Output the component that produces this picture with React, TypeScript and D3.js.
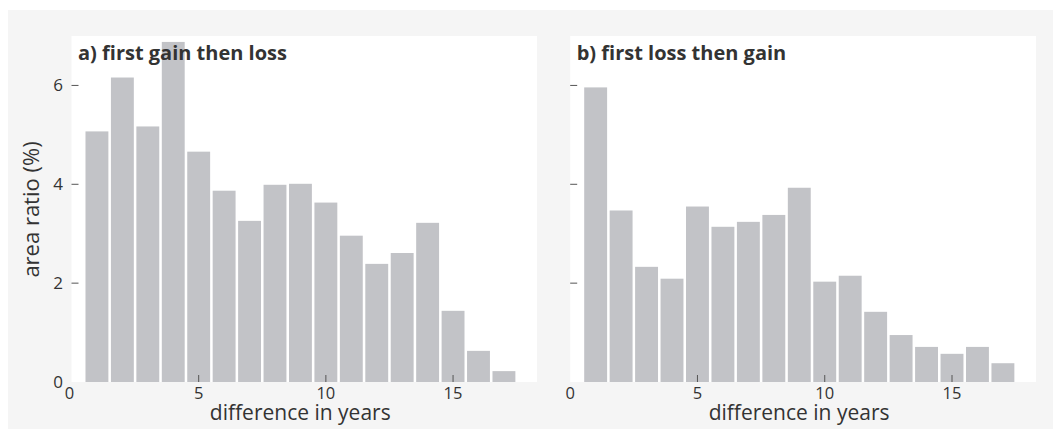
import React from "react";
import * as d3 from "d3";

const years = [1, 2, 3, 4, 5, 6, 7, 8, 9, 10, 11, 12, 13, 14, 15, 16, 17];
const gainThenLoss = [5.07, 6.16, 5.17, 6.88, 4.66, 3.87, 3.26, 3.99, 4.01, 3.63, 2.96, 2.39, 2.61, 3.22, 1.44, 0.63, 0.22];
const lossThenGain = [5.96, 3.47, 2.33, 2.09, 3.55, 3.14, 3.24, 3.38, 3.93, 2.03, 2.15, 1.42, 0.95, 0.71, 0.57, 0.71, 0.38];
const panelTitles = ["a) first gain then loss", "b) first loss then gain"];
const xTicks = [0, 5, 10, 15];
const yTicks = [0, 2, 4, 6];
const xLabel = "difference in years";
const yLabel = "area ratio (%)";

const FONT = "'Open Sans', 'Noto Sans', sans-serif";
const BAR = "#c2c3c7";
const TEXT = "#333333";
const TICK = "#555555";

const yScale = d3.scaleLinear().domain([0, 7]).range([382, 36]);

function Panel({ x0, x1, values, title, showYLabels }: { x0: number; x1: number; values: number[]; title: string; showYLabels: boolean }) {
  const xScale = d3.scaleLinear().domain([0, 18.3]).range([x0, x1]);
  const bw = xScale(0.9) - xScale(0);
  const [yBottom, yTop] = yScale.range();
  return (
    <g>
      <rect x={x0} y={yTop} width={x1 - x0} height={yBottom - yTop} fill="#ffffff" />
      {values.map((v, i) => (
        <rect key={i} x={xScale(years[i]) - bw / 2} y={yScale(v)} width={bw} height={yScale(0) - yScale(v)} fill={BAR} />
      ))}
      {yTicks.map((t) => (
        <g key={"y" + t}>
          {t !== 0 && <line x1={x0} x2={x0 + 7} y1={yScale(t)} y2={yScale(t)} stroke={TICK} strokeWidth={1} />}
          {showYLabels && (
            <text x={63} y={yScale(t)} dy="0.35em" textAnchor="end" fontSize={17} fill={TEXT} fontFamily={FONT}>
              {t}
            </text>
          )}
        </g>
      ))}
      {xTicks.map((t) => (
        <g key={"x" + t}>
          {t !== 0 && <line x1={xScale(t)} x2={xScale(t)} y1={yBottom} y2={yBottom - 7} stroke={TICK} strokeWidth={1} />}
          <text x={xScale(t) - (t === 0 && showYLabels ? 2 : 0)} y={398.5} textAnchor="middle" fontSize={16.5} fill={TEXT} fontFamily={FONT}>
            {t}
          </text>
        </g>
      ))}
      <text x={x0 + 6.5} y={60} fontSize={20} fontWeight="bold" fill={TEXT} fontFamily={FONT}>
        {title}
      </text>
      <text x={(x0 + x1) / 2 - 4} y={419.5} textAnchor="middle" fontSize={21} fill={TEXT} fontFamily={FONT}>
        {xLabel}
      </text>
    </g>
  );
}

export default function App() {
  return (
    <svg width={1053} height={429} style={{ position: "absolute", left: 0, top: 0 }}>
      <rect x={8} y={10} width={1045} height={419} fill="#f5f5f5" />
      <Panel x0={71.5} x1={537} values={gainThenLoss} title={panelTitles[0]} showYLabels={true} />
      <Panel x0={570.2} x1={1036} values={lossThenGain} title={panelTitles[1]} showYLabels={false} />
      <text transform="translate(38.5,209.5) rotate(-90)" textAnchor="middle" fontSize={22} fill={TEXT} fontFamily={FONT}>
        {yLabel}
      </text>
    </svg>
  );
}
